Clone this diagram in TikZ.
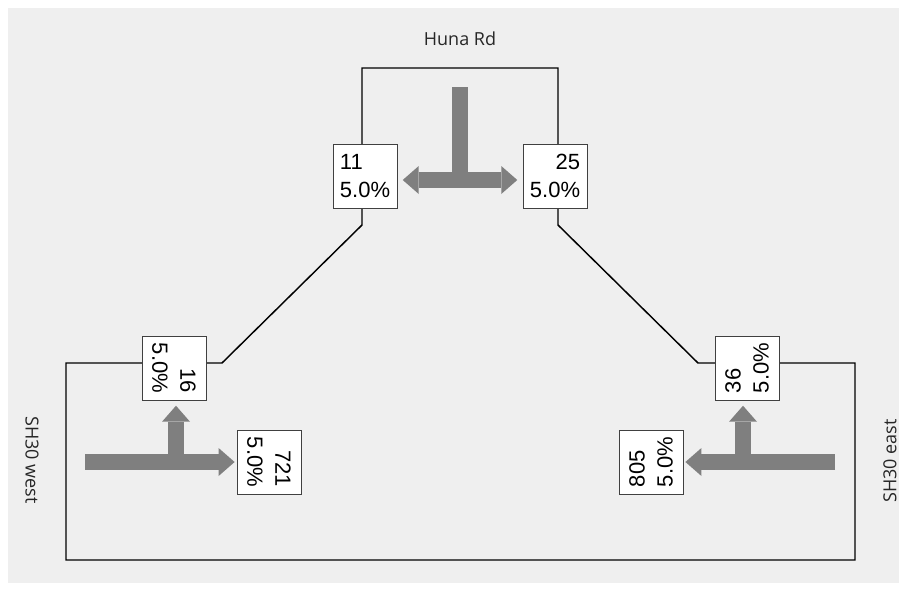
\documentclass[tikz,border=0pt]{standalone}
\usepackage{fontspec}
\setmainfont{Liberation Sans}
\newfontfamily\roadfont{Open Sans}
\usetikzlibrary{arrows.meta}
\definecolor{panel}{HTML}{EFEFEF}
\definecolor{flow}{HTML}{7F7F7F}
\tikzset{
  count/.style={draw=black!75, fill=white, line width=0.6pt,
    minimum width=48pt, minimum height=48pt, inner sep=0.5pt,
    font=\fontsize{16.5}{21}\selectfont},
  road/.style={font=\roadfont\fontsize{13.5}{16}\selectfont, text=black!85},
  flowtip/.tip={Triangle[width=21pt,length=12pt,line width=0pt]},
  stem/.style={draw=flow, line width=12pt},
  turn/.style={stem, -flowtip},
}
\begin{document}
\begin{tikzpicture}[x=0.75pt,y=-0.75pt]
\useasboundingbox (0,0) rectangle (906,590);
\fill[panel] (8,8) rectangle (899,583);
%
% Kerb line
\draw[line width=1.1pt]
        (66,363) -- (222,363) -- (362,225) -- (362,68)
     -- (558,68) -- (558,225) -- (698,363) -- (855,363)
     -- (855,560) -- (66,560) -- cycle;
%
% Approach names
\node[road] (huna) at (460,39) {Huna Rd};
\node[road, rotate=-90] (west) at (32,460) {SH30 west};
\node[road, rotate=90] (east) at (890,461) {SH30 east};
%
% Counts
\node[count, align=left] (b11) at (365,176) {11\\5.0\%};
\node[count, align=right] (b25) at (555,176) {25\\5.0\%};
\node[count, align=right, rotate=-90] (b16) at (174,368) {16\\5.0\%};
\node[count, align=right, rotate=-90] (b721) at (269,462) {721\\5.0\%};
\node[count, align=left, rotate=90] (b36) at (747,368) {36\\5.0\%};
\node[count, align=left, rotate=90] (b805) at (651,462) {805\\5.0\%};
%
% Huna Rd movements
\coordinate (hstem) at (460,87);
\coordinate (hjoin) at (460,180);
\draw[stem] (hstem) -- (hjoin);
\draw[stem, flowtip-flowtip, shorten <=4pt, shorten >=4pt]
      (b11.east |- hjoin) -- (b25.west |- hjoin);
%
% SH30 west movements
\coordinate (wstem) at (85,462);
\coordinate (wjoin) at (176,462);
\draw[turn, shorten >=1.5pt] (wstem) -- (b721.south);
\draw[turn, shorten >=4pt] (wjoin) -- (wjoin |- b16.east);
%
% SH30 east movements
\coordinate (estem) at (835,462);
\coordinate (ejoin) at (743,462);
\draw[turn, shorten >=1.5pt] (estem) -- (b805.south);
\draw[turn, shorten >=4pt] (ejoin) -- (ejoin |- b36.west);
%
\end{tikzpicture}
\end{document}
